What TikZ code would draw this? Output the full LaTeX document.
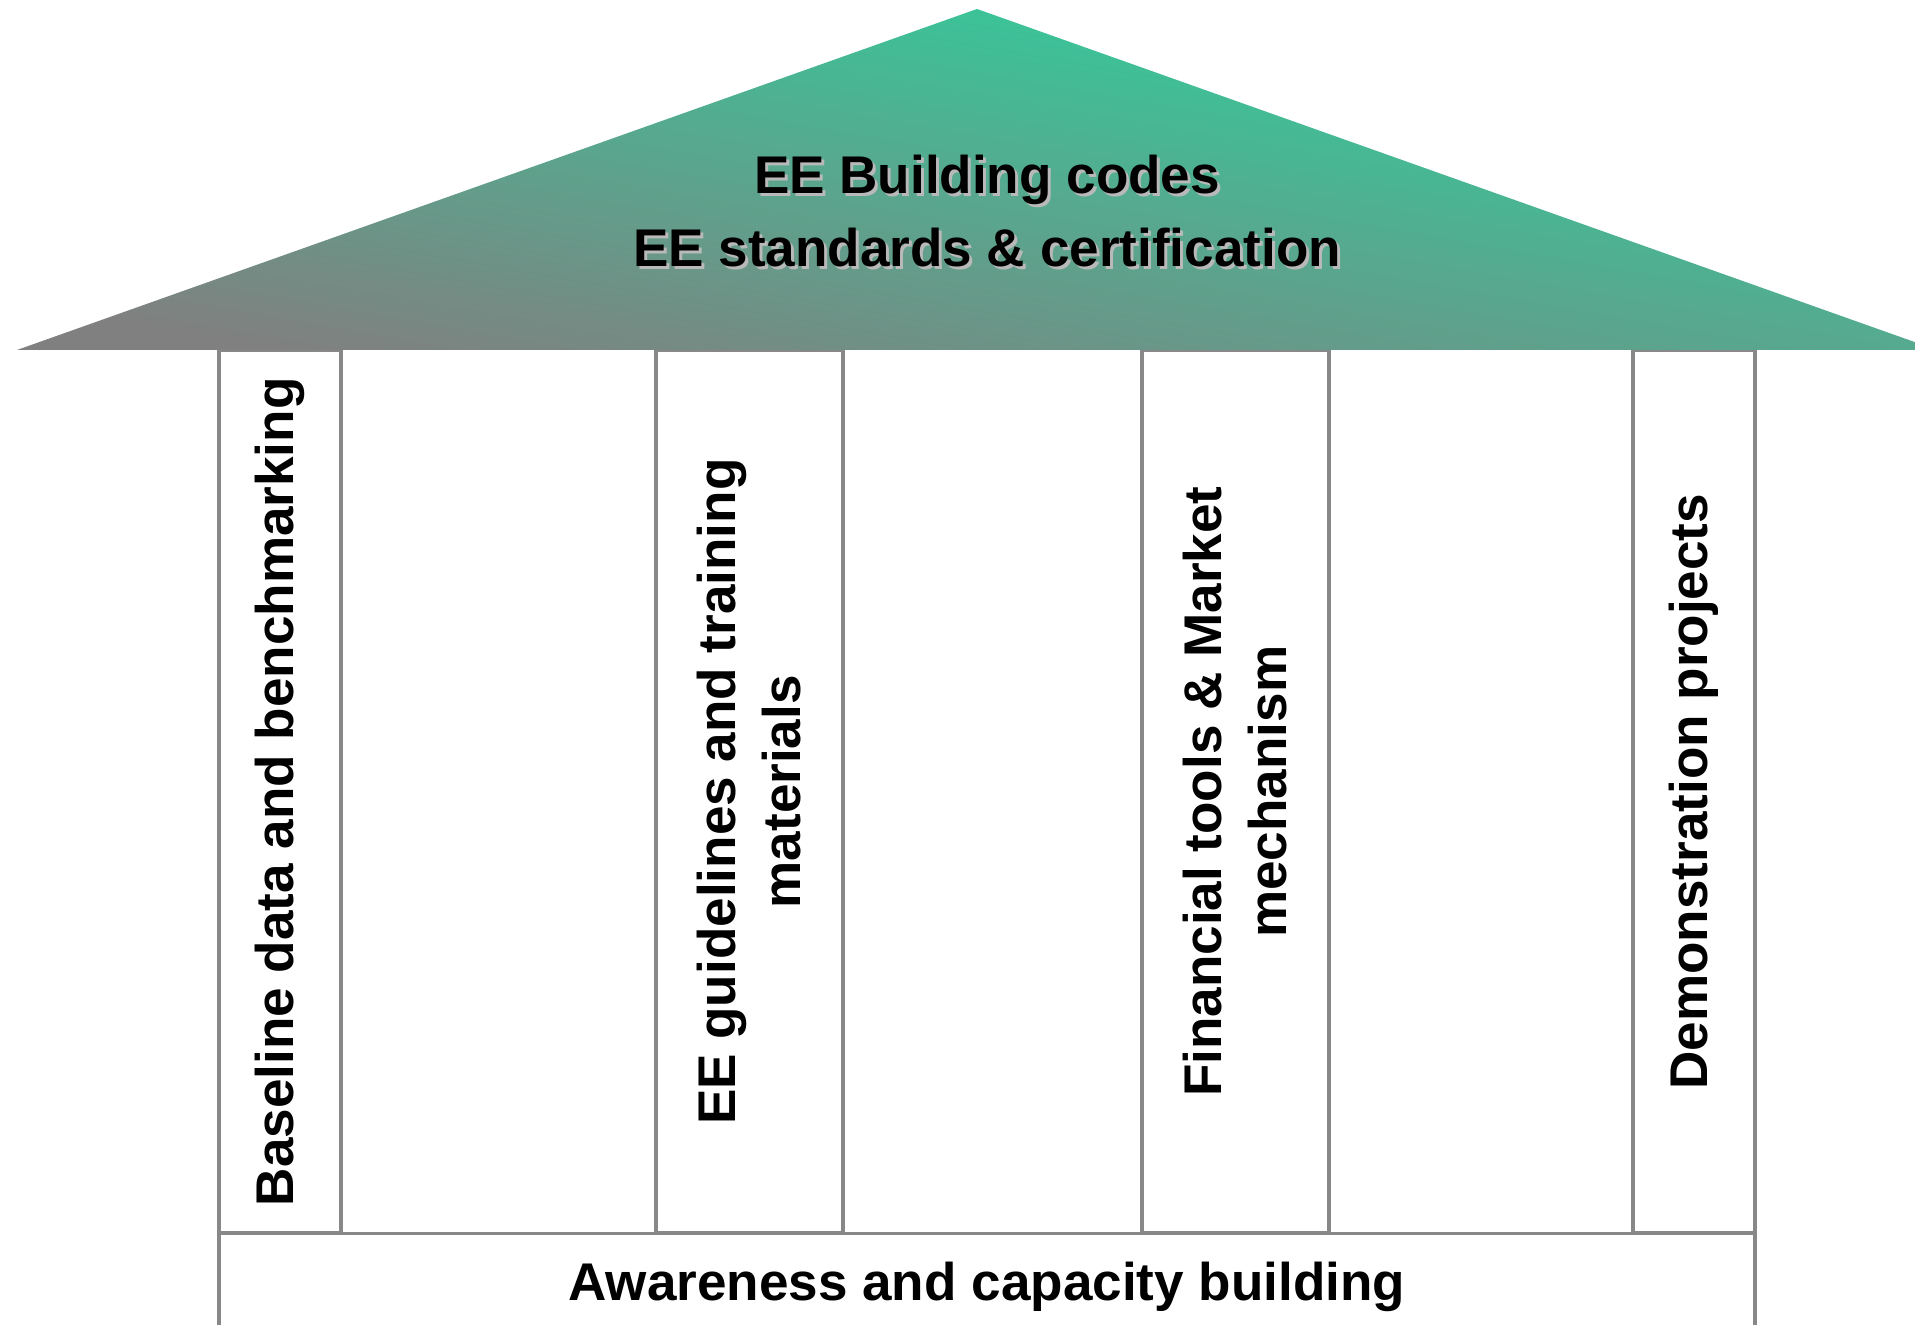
\documentclass[tikz,border=0pt]{standalone}
\usepackage{fontspec}
\setmainfont{Liberation Sans}
\definecolor{roofgreen}{RGB}{42,212,158}
\definecolor{roofgray}{RGB}{128,128,128}
\definecolor{linegray}{RGB}{136,136,136}
\definecolor{shadowgray}{RGB}{185,185,185}
\tikzset{
  pillar/.style={draw=linegray, line width=0.4mm, fill=white, rotate=90, minimum height=#1, inner sep=0pt, align=center,
    font=\fontsize{15.1}{18.5}\selectfont\bfseries},
  basebox/.style={draw=linegray, line width=0.4mm, fill=white, inner sep=0pt,
    font=\fontsize{15.1}{18.5}\selectfont\bfseries},
  rooftext/.style={align=center, inner sep=0pt, font=\fontsize{15.1}{20.8}\selectfont\bfseries}
}
\begin{document}
\begin{tikzpicture}[x=0.1mm,y=-0.1mm]
\useasboundingbox (0,0) rectangle (1915,1325);
\clip (0,0) rectangle (1915,1325);
% pillars
\node[pillar=12.21mm, minimum width=88.35mm] (p1) at (279.7,791.75) {Baseline data and benchmarking};
\node[pillar=18.69mm, minimum width=88.35mm] (p2) at (749.25,791.75) {EE guidelines and training\\materials};
\node[pillar=18.69mm, minimum width=88.35mm] (p3) at (1235.35,791.75) {Financial tools \& Market\\mechanism};
\node[pillar=12.21mm, minimum width=88.35mm] (p4) at (1693.95,791.75) {Demonstration projects};
% base
\node[basebox, minimum width=153.64mm, minimum height=10.75mm] (base) at (986.8,1287.25) {Awareness and capacity building};
% roof
\shade[top color=roofgreen, bottom color=roofgray, shading angle=-10] (17,350) -- (977,9) -- (1937,350) -- cycle;
\node[rooftext, text=shadowgray] (roofshadow) at (990,214) {EE Building codes\\EE standards \& certification};
\node[rooftext] (roof) at (987,211) {EE Building codes\\EE standards \& certification};
\end{tikzpicture}
\end{document}
